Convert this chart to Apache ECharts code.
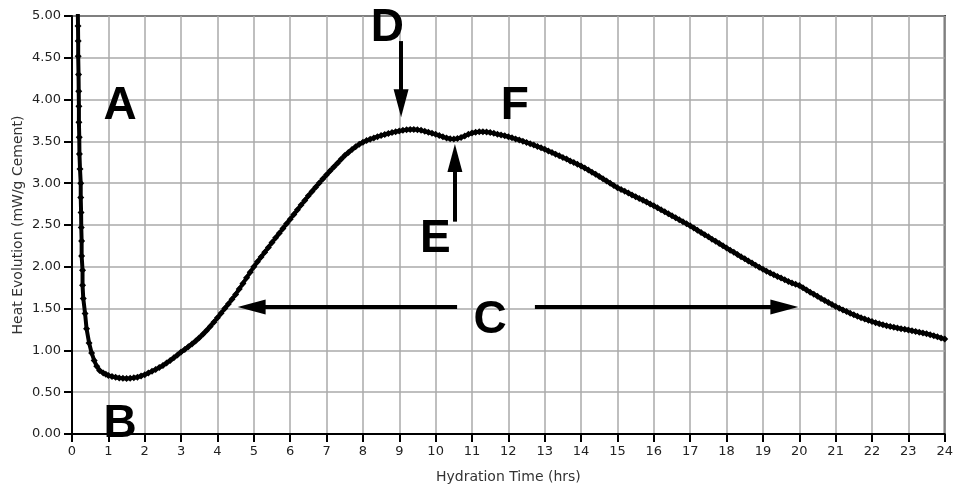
<!DOCTYPE html>
<html>
<head>
<meta charset="utf-8">
<script src="https://cdn.jsdelivr.net/npm/echarts@6/dist/echarts.min.js"></script>
<style>html,body{margin:0;padding:0;background:#fff;}#c{width:956px;height:489px;}</style>
</head>
<body>
<div id="c"></div>
<script>
// Early (steep) part: hours / heat
const earlyTimes = [0.16,0.165,0.17,0.17,0.18,0.185,0.19,0.19,0.20,0.205,0.22,0.24,0.24,0.25,0.255,0.265,0.265,0.29,0.29,0.31,0.36,0.40,0.47,0.54,0.61,0.68,0.76,0.86,0.93];
const earlyHeat  = [5.05,4.88,4.70,4.52,4.30,4.10,3.92,3.73,3.55,3.35,3.17,3.00,2.83,2.65,2.47,2.31,2.13,1.96,1.78,1.62,1.44,1.26,1.09,0.97,0.88,0.81,0.76,0.73,0.715];
// Main part: hours / heat
const mainTimes = [1.0,1.1,1.2,1.3,1.4,1.5,1.6,1.7,1.8,1.9,2.0,2.1,2.2,2.3,2.4,2.5,2.6,2.7,2.8,2.9,3.0,3.1,3.2,3.3,3.4,3.5,3.6,3.7,3.8,3.9,4.0,4.1,4.2,4.3,4.4,4.5,4.6,4.7,4.8,4.9,5.0,5.1,5.2,5.3,5.4,5.5,5.6,5.7,5.8,5.9,6.0,6.1,6.2,6.3,6.4,6.5,6.6,6.7,6.8,6.9,7.0,7.1,7.2,7.3,7.4,7.5,7.6,7.7,7.8,7.9,8.0,8.1,8.2,8.3,8.4,8.5,8.6,8.7,8.8,8.9,9.0,9.1,9.2,9.3,9.4,9.5,9.6,9.7,9.8,9.9,10.0,10.1,10.2,10.3,10.4,10.5,10.6,10.7,10.8,10.9,11.0,11.1,11.2,11.3,11.4,11.5,11.6,11.7,11.8,11.9,12.0,12.1,12.2,12.3,12.4,12.5,12.6,12.7,12.8,12.9,13.0,13.1,13.2,13.3,13.4,13.5,13.6,13.7,13.8,13.9,14.0,14.1,14.2,14.3,14.4,14.5,14.6,14.7,14.8,14.9,15.0,15.1,15.2,15.3,15.4,15.5,15.6,15.7,15.8,15.9,16.0,16.1,16.2,16.3,16.4,16.5,16.6,16.7,16.8,16.9,17.0,17.1,17.2,17.3,17.4,17.5,17.6,17.7,17.8,17.9,18.0,18.1,18.2,18.3,18.4,18.5,18.6,18.7,18.8,18.9,19.0,19.1,19.2,19.3,19.4,19.5,19.6,19.7,19.8,19.9,20.0,20.1,20.2,20.3,20.4,20.5,20.6,20.7,20.8,20.9,21.0,21.1,21.2,21.3,21.4,21.5,21.6,21.7,21.8,21.9,22.0,22.1,22.2,22.3,22.4,22.5,22.6,22.7,22.8,22.9,23.0,23.1,23.2,23.3,23.4,23.5,23.6,23.7,23.8,23.9,24.0];
const mainHeat = [0.700,0.688,0.678,0.671,0.667,0.665,0.666,0.672,0.680,0.694,0.710,0.730,0.750,0.772,0.795,0.820,0.850,0.880,0.912,0.945,0.980,1.012,1.045,1.078,1.113,1.150,1.193,1.238,1.287,1.338,1.390,1.445,1.500,1.556,1.612,1.670,1.735,1.800,1.868,1.935,2.000,2.060,2.118,2.175,2.232,2.290,2.346,2.402,2.458,2.514,2.570,2.626,2.682,2.738,2.794,2.850,2.902,2.953,3.003,3.052,3.100,3.148,3.195,3.240,3.286,3.330,3.368,3.403,3.436,3.465,3.490,3.510,3.527,3.542,3.557,3.570,3.582,3.594,3.605,3.615,3.624,3.632,3.639,3.643,3.643,3.640,3.632,3.622,3.610,3.598,3.585,3.570,3.555,3.540,3.532,3.530,3.535,3.548,3.565,3.585,3.600,3.610,3.615,3.616,3.612,3.605,3.596,3.587,3.578,3.567,3.555,3.543,3.530,3.517,3.503,3.488,3.472,3.456,3.440,3.423,3.405,3.386,3.367,3.347,3.328,3.308,3.288,3.267,3.247,3.226,3.205,3.181,3.157,3.132,3.107,3.080,3.053,3.026,2.999,2.972,2.945,2.924,2.903,2.882,2.860,2.839,2.817,2.795,2.774,2.752,2.730,2.707,2.683,2.659,2.635,2.610,2.586,2.562,2.538,2.514,2.490,2.464,2.437,2.411,2.384,2.358,2.331,2.305,2.278,2.252,2.225,2.199,2.173,2.147,2.121,2.096,2.070,2.045,2.020,1.995,1.970,1.948,1.926,1.905,1.885,1.865,1.845,1.825,1.805,1.790,1.775,1.749,1.723,1.697,1.672,1.647,1.622,1.598,1.574,1.550,1.525,1.504,1.484,1.464,1.444,1.425,1.408,1.391,1.375,1.360,1.345,1.332,1.319,1.307,1.296,1.285,1.276,1.268,1.260,1.252,1.245,1.236,1.227,1.218,1.209,1.200,1.188,1.175,1.162,1.149,1.135];

// Annotation letters: [label, hour, heat]
const letters = [['A',1.32,3.92],['B',1.32,0.12],['C',11.5,1.36],['D',8.67,4.85],['E',9.99,2.33],['F',12.18,3.92]];
// Arrows (end = centre of arrowhead): [fromHour, fromHeat, toHour, toHeat]
const arrows = [[9.05,4.70,9.05,3.955],[10.53,2.54,10.53,3.30],[10.59,1.52,4.94,1.52],[12.73,1.52,19.59,1.52]];

const data = [];
for (let i = 0; i < earlyTimes.length; i++) data.push([earlyTimes[i], earlyHeat[i]]);
for (let i = 0; i < mainTimes.length; i++) data.push([mainTimes[i], mainHeat[i]]);

const font = 'DejaVu Sans';
const chart = echarts.init(document.getElementById('c'), null, {renderer: 'canvas'});
chart.setOption({
  animation: false,
  backgroundColor: '#fff',
  grid: {left: 72, right: 9, top: 16, bottom: 55, show: true, borderColor: '#000', borderWidth: 2, backgroundColor: 'transparent'},
  xAxis: {
    type: 'value', min: 0, max: 24, interval: 1,
    name: 'Hydration Time (hrs)', nameLocation: 'middle', nameGap: 36, nameMoveOverlap: false,
    nameTextStyle: {fontFamily: font, fontSize: 14, color: '#333'},
    axisLine: {show: true, lineStyle: {color: '#000', width: 2}},
    axisTick: {show: true, length: 8, lineStyle: {color: '#000', width: 2}},
    axisLabel: {fontFamily: font, fontSize: 13, color: '#222', margin: 11},
    splitLine: {show: true, lineStyle: {color: '#aaa', width: 1.5}}
  },
  yAxis: {
    type: 'value', min: 0, max: 5, interval: 0.5,
    name: 'Heat Evolution (mW/g Cement)', nameLocation: 'middle', nameGap: 47, nameMoveOverlap: false,
    nameTextStyle: {fontFamily: font, fontSize: 14, color: '#333'},
    axisLine: {show: true, lineStyle: {color: '#000', width: 2}},
    axisTick: {show: true, length: 8, lineStyle: {color: '#000', width: 2}},
    axisLabel: {fontFamily: font, fontSize: 13, color: '#222', margin: 11, formatter: v => v.toFixed(2)},
    splitLine: {show: true, lineStyle: {color: '#aaa', width: 1.5}}
  },
  series: [
    {
      type: 'line', data: data, symbol: 'diamond', symbolSize: 7, showSymbol: true, showAllSymbol: true,
      lineStyle: {color: '#000', width: 4}, itemStyle: {color: '#000'}, clip: true, z: 3
    },
    {
      type: 'line', data: [], silent: true,
      markLine: {
        silent: true, symbol: ['none', 'triangle'], symbolSize: [15, 28],
        lineStyle: {color: '#000', width: 4, type: 'solid'}, label: {show: false},
        data: arrows.map(a => [{coord: [a[0], a[1]]}, {coord: [a[2], a[3]]}])
      },
      markPoint: {
        silent: true, symbol: 'circle', symbolSize: 1, itemStyle: {color: 'rgba(0,0,0,0)'},
        label: {show: true, position: 'inside', fontFamily: 'Liberation Sans', fontWeight: 'bold', fontSize: 46, color: '#000', formatter: p => p.name},
        data: letters.map(l => ({name: l[0], coord: [l[1], l[2]]}))
      }
    }
  ]
});
</script>
</body>
</html>
